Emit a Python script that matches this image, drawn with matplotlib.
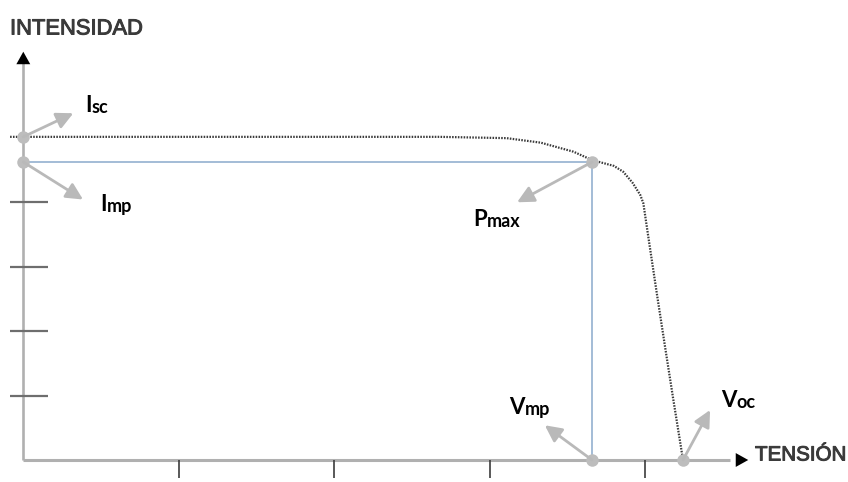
import matplotlib
matplotlib.use("Agg")
import matplotlib.pyplot as plt
import matplotlib.patheffects as pe

# ---------------- data (schematic I-V curve, arbitrary units) ----------------
curve_v = [-0.085, 1.78, 2.68, 3.11, 3.33, 3.54, 3.66, 3.80, 3.86, 3.92, 3.97,
           3.99, 4.03, 4.08, 4.13, 4.18, 4.23, 4.245]
curve_i = [5.01, 5.01, 5.01, 4.99, 4.92, 4.78, 4.65, 4.56, 4.47, 4.30, 4.11,
           3.98, 3.33, 2.53, 1.75, 0.98, 0.23, 0.0]
isc = 5.01
imp = 4.62
vmp = 3.66
voc = 4.245
v_ticks = [1, 2, 3, 4]
i_ticks = [1, 2, 3, 4]
x_label = "TENSIÓN"
y_label = "INTENSIDAD"
point_labels = [("I", "sc"), ("I", "mp"), ("P", "max"), ("V", "mp"), ("V", "oc")]

# ---------------- layout ----------------
W, H = 848, 482
fig = plt.figure(figsize=(W / 100, H / 100), dpi=100)
ax = fig.add_axes([0, 0, 1, 1])
ax.set_axis_off()
x0_px, y0_px, ux, uy = 23.3, 460.0, 155.4, 64.5
ax.set_xlim(-x0_px / ux, (W - x0_px) / ux)
ax.set_ylim(-(H - y0_px) / uy, y0_px / uy)

axis_gray = "#b0b0b0"
x_end, x_tip = 4.55, 4.665
y_end, y_tip = 6.15, 6.33

# axes lines
ax.plot([0, x_end], [0, 0], color=axis_gray, lw=2.2, solid_capstyle="butt", zorder=2)
ax.plot([0, 0], [0, y_end], color=axis_gray, lw=1.9, solid_capstyle="butt", zorder=2)
head = dict(arrowstyle="-|>,head_length=0.9,head_width=0.5", color="black",
            lw=0, shrinkA=0, shrinkB=0)
ax.annotate("", xy=(x_tip, 0), xytext=(x_end - 0.02, 0), arrowprops=head)
ax.annotate("", xy=(0, y_tip), xytext=(0, y_end - 0.05), arrowprops=head)

# tick marks
ax.hlines(i_ticks, -0.085, 0.16, color="#6e6e6e", lw=1.6, zorder=3)
ax.vlines(v_ticks, -0.28, 0, color="#3c3c3c", lw=1.2, zorder=3)

# max power rectangle (blue)
ax.plot([0, vmp, vmp], [imp, imp, 0], color="#9cb6d3", lw=1.3, zorder=3)

# I-V curve (dotted)
ax.plot(curve_v, curve_i, color="#3a3a3a", lw=1.6, ls=(0, (0.7, 0.6)), zorder=4)

# points
pts_v = [0, 0, vmp, vmp, voc]
pts_i = [isc, imp, imp, 0, 0]
ax.plot(pts_v, pts_i, "o", ms=9, color="#bdbdbd", mec="none", zorder=5)

# gray pointer arrows (offsets in points)
offsets = [(36, 17), (43, -27), (-54, -29), (-34, 25), (19.5, 36)]
for (pv, pi), off in zip(zip(pts_v, pts_i), offsets):
    ax.annotate("", xy=(pv, pi), xytext=off, textcoords="offset points",
                arrowprops=dict(arrowstyle="<|-,head_length=1.0,head_width=0.5",
                                color="#b9b9b9", lw=2.0, shrinkA=0, shrinkB=0),
                zorder=6)

# point labels: (left px, baseline px)
label_pos = [(85, 112), (100, 211), (473, 226), (509, 414), (721, 407)]
for (main, sub), (lx, ly) in zip(point_labels, label_pos):
    t = fig.text(lx / W, 1 - ly / H, main, fontsize=16, fontweight="bold",
                 family=["Lato", "DejaVu Sans"], va="baseline", ha="left", color="black")
    ax.annotate(sub, xy=(1, 0), xycoords=t, va="bottom", ha="left",
                fontsize=13, fontweight="bold", family=["Lato", "DejaVu Sans"],
                color="black", annotation_clip=False)

# axis titles
stroke = [pe.withStroke(linewidth=0.7, foreground="#3a3a3a")]
fig.text(10 / W, 1 - 29 / H, y_label, fontsize=15.8, family=["Liberation Sans", "DejaVu Sans"],
         color="#3a3a3a", va="center", ha="left", path_effects=stroke)
fig.text(755 / W, 1 - 455 / H, x_label, fontsize=14.8, family=["Liberation Sans", "DejaVu Sans"],
         color="#3a3a3a", va="center", ha="left", path_effects=stroke)

fig.savefig("out.png", dpi=100, facecolor="white")
